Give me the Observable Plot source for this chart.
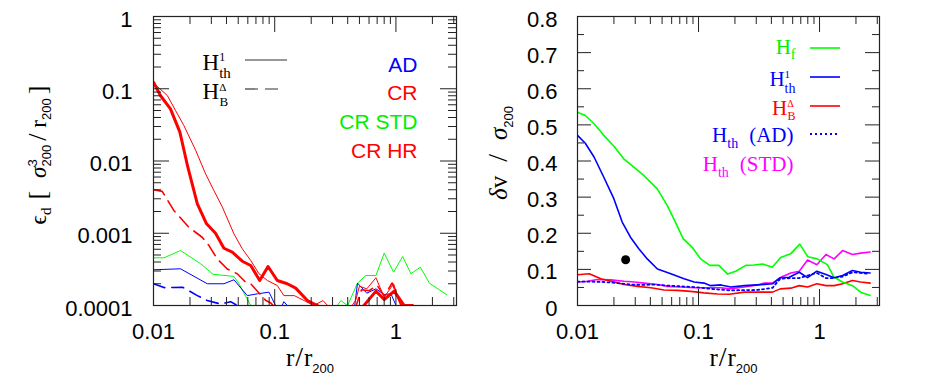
<!DOCTYPE html>
<html><head><meta charset="utf-8">
<script src="https://cdn.jsdelivr.net/npm/d3@7"></script>
<script src="https://cdn.jsdelivr.net/npm/@observablehq/plot@0.6"></script>
<style>
html,body{margin:0;padding:0;background:#fff;}
#wrap{position:relative;width:937px;height:392px;overflow:hidden;background:#fff;}
#left,#right{position:absolute;top:0;}
#left{left:0;} #right{left:469px;}
</style></head><body>
<div id="wrap"><div id="left"></div><div id="right"></div></div>
<script>
// ---------------- LEFT PANEL DATA: energy dissipation eps_d vs r/r200 ----------------
// CR HR, H_th^1 (thick red)
const crhrThR = [0.01, 0.0114, 0.0138, 0.0165, 0.0192, 0.0230, 0.0274, 0.0325, 0.0381, 0.0447, 0.054, 0.0634, 0.0752, 0.0881, 0.105, 0.127, 0.149, 0.186, 0.225, 0.27, 0.45, 0.547, 0.684, 0.80, 0.968, 1.17, 1.37];
const crhrThE = [0.123, 0.0807, 0.0527, 0.0251, 0.0082, 0.00255, 0.00135, 0.001, 0.00062, 0.000547, 0.00041, 0.000358, 0.000222, 0.000347, 0.000222, 0.0002, 0.000174, 0.000117, 0.0001, 0.00008, 0.00007, 0.000101, 0.000158, 0.000121, 0.000158, 0.0001, 0.0001];
// CR, H_th^1 (thin red)
const crThR = [0.01, 0.013, 0.0152, 0.0178, 0.0223, 0.0269, 0.0315, 0.037, 0.0461, 0.054, 0.0634, 0.0742, 0.087, 0.105, 0.119, 0.145, 0.175, 0.21, 0.25, 0.29, 0.40, 0.467, 0.50, 0.575, 0.684, 0.80, 0.957, 1.05, 1.13];
const crThE = [0.12, 0.0807, 0.05, 0.031, 0.014, 0.00664, 0.0039, 0.0023, 0.00098, 0.00061, 0.00042, 0.000275, 0.000222, 0.000189, 0.000137, 0.000137, 0.000117, 0.0001, 0.000117, 0.00009, 0.00008, 0.00012, 0.000185, 0.00017, 0.000242, 0.00013, 0.0002, 0.00012, 0.0001];
// CR, H_B^Delta (dashed red)
const crBR = [0.01, 0.0118, 0.0147, 0.0196, 0.0252, 0.0286, 0.0336, 0.0406, 0.049, 0.0576, 0.0634, 0.0845, 0.093, 0.11, 0.3, 0.45, 0.52, 0.6, 0.70, 0.80, 0.93, 1.1];
const crBE = [0.004, 0.0038, 0.00207, 0.00121, 0.00088, 0.00068, 0.00044, 0.00032, 0.000275, 0.00021, 0.0002, 0.000117, 0.000108, 0.00008, 0.00006, 0.00008, 0.000165, 0.00016, 0.00019, 0.000135, 0.000205, 0.0001];
// CR STD, H_th^1 (green)
const stdThR = [0.01, 0.0122, 0.0167, 0.0245, 0.031, 0.0461, 0.0507, 0.0634, 0.08, 0.3, 0.351, 0.399, 0.482, 0.565, 0.684, 0.80, 0.957, 1.136, 1.33, 1.59, 1.89, 2.62];
const stdThE = [0.000457, 0.000457, 0.000577, 0.000378, 0.00027, 0.000253, 0.0002, 0.0001, 0.00007, 0.00008, 0.000117, 0.0001, 0.000204, 0.00026, 0.00026, 0.00053, 0.000289, 0.000477, 0.000275, 0.000339, 0.000204, 0.000141];
// AD, H_th^1 (blue)
const adThR = [0.01, 0.0167, 0.0278, 0.0381, 0.0461, 0.0594, 0.072, 0.0898, 0.1015, 0.112, 0.119, 0.127, 0.2, 0.45, 0.482, 0.575, 0.684, 0.80, 0.91, 1.0, 1.1];
const adThE = [0.000312, 0.000322, 0.0002, 0.0002, 0.000227, 0.000137, 0.000145, 0.000153, 0.0001, 0.00009, 0.000113, 0.0001, 0.00007, 0.00008, 0.000204, 0.000148, 0.00017, 0.000142, 0.000145, 0.000101, 0.00008];
// AD, H_B^Delta (dashed blue)
const adBR = [0.01, 0.0122, 0.0175, 0.023, 0.0278, 0.0357, 0.0433, 0.049, 0.055];
const adBE = [0.0002, 0.000177, 0.000178, 0.000137, 0.000117, 0.000105, 0.000113, 0.0001, 0.00009];

// ---------------- RIGHT PANEL DATA: velocity dispersion dv/sigma200 vs r/r200 ----------------
const hfR = [0.01, 0.0116, 0.0137, 0.0165, 0.0200, 0.0241, 0.0292, 0.0353, 0.0456, 0.0551, 0.0625, 0.0747, 0.0887, 0.104, 0.124, 0.147, 0.174, 0.203, 0.246, 0.286, 0.339, 0.407, 0.477, 0.576, 0.687, 0.80, 0.957, 1.16, 1.32, 1.55, 1.87, 2.19, 2.62];
const hfV = [0.535, 0.526, 0.503, 0.471, 0.441, 0.406, 0.383, 0.360, 0.323, 0.277, 0.240, 0.185, 0.161, 0.129, 0.111, 0.111, 0.087, 0.095, 0.111, 0.112, 0.115, 0.106, 0.133, 0.143, 0.170, 0.135, 0.129, 0.113, 0.078, 0.065, 0.055, 0.037, 0.028];
const thR = [0.01, 0.0116, 0.0137, 0.0165, 0.0200, 0.0234, 0.0274, 0.0321, 0.0377, 0.0458, 0.059, 0.076, 0.092, 0.111, 0.126, 0.153, 0.185, 0.239, 0.308, 0.409, 0.473, 0.562, 0.68, 0.796, 0.95, 1.13, 1.32, 1.55, 1.87, 2.19, 2.62];
const thV = [0.471, 0.449, 0.411, 0.355, 0.295, 0.231, 0.189, 0.157, 0.129, 0.101, 0.088, 0.074, 0.065, 0.062, 0.055, 0.057, 0.051, 0.055, 0.057, 0.060, 0.077, 0.078, 0.092, 0.077, 0.095, 0.086, 0.077, 0.083, 0.097, 0.092, 0.090];
const bR = [0.01, 0.0125, 0.0156, 0.0201, 0.0243, 0.0313, 0.0404, 0.052, 0.067, 0.0863, 0.111, 0.1436, 0.18, 0.239, 0.308, 0.409, 0.473, 0.579, 0.68, 0.796, 0.95, 1.13, 1.32, 1.55, 1.87, 2.19, 2.62];
const bV = [0.085, 0.088, 0.074, 0.065, 0.058, 0.053, 0.049, 0.043, 0.042, 0.039, 0.035, 0.032, 0.031, 0.037, 0.037, 0.037, 0.046, 0.048, 0.055, 0.051, 0.060, 0.055, 0.055, 0.060, 0.069, 0.065, 0.062];
const stdR = [0.01, 0.0121, 0.0146, 0.0189, 0.0243, 0.0294, 0.0356, 0.0458, 0.0554, 0.0714, 0.092, 0.1186, 0.153, 0.18, 0.239, 0.308, 0.349, 0.409, 0.479, 0.579, 0.68, 0.796, 0.95, 1.13, 1.32, 1.55, 1.87, 2.19, 2.62];
const stdV = [0.065, 0.067, 0.072, 0.071, 0.067, 0.065, 0.062, 0.058, 0.053, 0.051, 0.049, 0.049, 0.049, 0.046, 0.051, 0.057, 0.062, 0.062, 0.078, 0.090, 0.095, 0.126, 0.113, 0.141, 0.129, 0.152, 0.141, 0.145, 0.148];
const adR = [0.01, 0.0129, 0.0166, 0.0214, 0.0275, 0.0356, 0.043, 0.0554, 0.0714, 0.092, 0.126, 0.18, 0.308, 0.409, 0.473, 0.579, 0.68, 0.796, 0.95, 1.13, 1.32, 1.55, 1.87, 2.5];
const adV = [0.066, 0.066, 0.065, 0.062, 0.058, 0.057, 0.058, 0.055, 0.053, 0.051, 0.046, 0.042, 0.043, 0.049, 0.074, 0.076, 0.076, 0.083, 0.090, 0.076, 0.076, 0.080, 0.092, 0.088];
const dotR = [0.025];
const dotV = [0.1265];

// ---------------- TICKS ----------------
const xMajor = [0.01, 0.1, 1];
const xTickLabels = ["0.01", "0.1", "1"];
const xMinor = [0.02,0.03,0.04,0.05,0.06,0.07,0.08,0.09,0.2,0.3,0.4,0.5,0.6,0.7,0.8,0.9,2,3];
const yLogMajor = [0.0001, 0.001, 0.01, 0.1, 1];
const yLogLabels = ["0.0001", "0.001", "0.01", "0.1", "1"];
const yLogMinor = [0.0002,0.0003,0.0004,0.0005,0.0006,0.0007,0.0008,0.0009,0.002,0.003,0.004,0.005,0.006,0.007,0.008,0.009,0.02,0.03,0.04,0.05,0.06,0.07,0.08,0.09,0.2,0.3,0.4,0.5,0.6,0.7,0.8,0.9];
const yLinMajor = [0, 0.1, 0.2, 0.3, 0.4, 0.5, 0.6, 0.7, 0.8];
const yLinLabels = ["0", "0.1", "0.2", "0.3", "0.4", "0.5", "0.6", "0.7", "0.8"];
const yLinMinor = [0.05, 0.15, 0.25, 0.35, 0.45, 0.55, 0.65, 0.75];

const leftLegendLabels = ["AD", "CR", "CR STD", "CR HR"];
const leftLegendColors = ["#0000ff", "#ff0000", "#00ee00", "#ff0000"];

const rows = (rs, vs) => rs.map((r, i) => ({r, v: vs[i]}));

const sans = "Liberation Sans, Arial, Helvetica, sans-serif";
const serif = "Liberation Serif, Times New Roman, serif";
const BLUE = "#0000ff", RED = "#ff0000", GREEN = "#00ff00", MAG = "#ff00ff";

const W = 468, H = 392, mT = 16, mB = 87;

function tickMarks(fw, fh, xMaj, xMin, yMaj, yMin, xl, xs, yl, ys) {
  const st = {stroke: "#222", strokeWidth: 1};
  return [
    Plot.ruleX(xMaj, {...st, insetTop: fh - xl}),
    Plot.ruleX(xMaj, {...st, insetBottom: fh - xl}),
    Plot.ruleX(xMin, {...st, insetTop: fh - xs}),
    Plot.ruleX(xMin, {...st, insetBottom: fh - xs}),
    Plot.ruleY(yMaj, {...st, insetRight: fw - yl}),
    Plot.ruleY(yMaj, {...st, insetLeft: fw - yl}),
    Plot.ruleY(yMin, {...st, insetRight: fw - ys}),
    Plot.ruleY(yMin, {...st, insetLeft: fw - ys})
  ];
}

const svgNS = "http://www.w3.org/2000/svg";
function setMath(svg, key, parts) {
  d3.select(svg).selectAll("text").filter(function () { return this.textContent === key; }).each(function () {
    const el = this;
    el.textContent = "";
    let cur = 0;
    for (const p of parts) {
      const t = document.createElementNS(svgNS, "tspan");
      t.textContent = p.t;
      const sh = p.sh || 0;
      if (sh !== cur) t.setAttribute("dy", sh - cur);
      cur = sh;
      if (p.dx) t.setAttribute("dx", p.dx);
      if (p.s) t.setAttribute("font-size", p.s);
      if (p.f) t.setAttribute("font-family", p.f);
      if (p.it) t.setAttribute("font-style", "italic");
      el.appendChild(t);
    }
  });
}
function swatch(svg, x1, x2, y, color, width, dash) {
  const l = d3.select(svg).append("line")
    .attr("x1", x1).attr("x2", x2).attr("y1", y).attr("y2", y)
    .attr("stroke", color).attr("stroke-width", width);
  if (dash) l.attr("stroke-dasharray", dash);
}

// ---------------- LEFT PLOT ----------------
{
  const mL = 153, mR = 12;
  const fw = W - mL - mR, fh = H - mT - mB;
  const svg = Plot.plot({
    width: W, height: H, marginLeft: mL, marginRight: mR, marginTop: mT, marginBottom: mB,
    x: {type: "log", domain: [0.01, 3.16], axis: null},
    y: {type: "log", domain: [0.0001, 1], axis: null},
    style: {background: "white", color: "black", fontFamily: sans, fontSize: "22px", overflow: "visible"},
    marks: [
      Plot.line(rows(stdThR, stdThE), {x: "r", y: "v", stroke: GREEN, strokeWidth: 1, clip: true}),
      Plot.line(rows(adThR, adThE), {x: "r", y: "v", stroke: BLUE, strokeWidth: 1, clip: true}),
      Plot.line(rows(adBR, adBE), {x: "r", y: "v", stroke: BLUE, strokeWidth: 1.6, strokeDasharray: "12,7", clip: true}),
      Plot.line(rows(crBR, crBE), {x: "r", y: "v", stroke: RED, strokeWidth: 1.6, strokeDasharray: "13,7", clip: true}),
      Plot.line(rows(crThR, crThE), {x: "r", y: "v", stroke: RED, strokeWidth: 1, clip: true}),
      Plot.line(rows(crhrThR, crhrThE), {x: "r", y: "v", stroke: RED, strokeWidth: 3, clip: true}),
      Plot.frame({stroke: "#222", strokeWidth: 1.2}),
      ...tickMarks(fw, fh, xMajor, xMinor, yLogMajor, yLogMinor, 16, 8, 16, 8),
      Plot.text(xMajor, {x: d => d, text: (d, i) => xTickLabels[i], frameAnchor: "bottom", lineAnchor: "top", dy: 18, fontSize: 22, fontFamily: sans}),
      Plot.text(yLogMajor, {y: d => d, text: (d, i) => yLogLabels[i], frameAnchor: "left", textAnchor: "end", dx: -21, dy: 3, fontSize: 22, fontFamily: sans}),
      ...leftLegendLabels.map((lab, i) => Plot.text([lab], {text: d => d, frameAnchor: "top-right", textAnchor: "end", lineAnchor: "bottom", dx: -39, dy: 55 + 28.7 * i, fill: leftLegendColors[i], fontSize: 21, fontFamily: sans})),
      Plot.text(["H_th^1"], {text: d => d, frameAnchor: "top-left", textAnchor: "start", lineAnchor: "bottom", dx: 49, dy: 53, fontSize: 23, fontFamily: serif}),
      Plot.text(["H_B^Δ"], {text: d => d, frameAnchor: "top-left", textAnchor: "start", lineAnchor: "bottom", dx: 49, dy: 82, fontSize: 23, fontFamily: serif}),
      Plot.text(["r/r_200 L"], {text: d => d, frameAnchor: "bottom", textAnchor: "middle", lineAnchor: "bottom", dx: 5, dy: 60, fontSize: 25, fontFamily: serif}),
      Plot.text(["eps_d"], {text: d => d, frameAnchor: "left", textAnchor: "middle", lineAnchor: "bottom", rotate: -90, dx: -108, dy: -6, fontSize: 23, fontFamily: serif})
    ]
  });
  setMath(svg, "H_th^1", [{t: "H"}, {t: "1", s: 12, sh: -9}, {t: "th", s: 15, sh: 8, dx: -6}]);
  setMath(svg, "H_B^Δ", [{t: "H"}, {t: "Δ", s: 11, sh: -8}, {t: "B", s: 13, sh: 7, dx: -6.7}]);
  setMath(svg, "r/r_200 L", [{t: "r"}, {t: "/", s: 28, dx: 1}, {t: "r", dx: 1}, {t: "200", s: 13, f: sans, sh: 7}]);
  setMath(svg, "eps_d", [
    {t: "ϵ"}, {t: "d", s: 15, sh: 5},
    {t: "[", s: 26, dx: 8},
    {t: "σ", dx: 13, it: true}, {t: "3", s: 13, f: sans, sh: -9}, {t: "200", s: 13, f: sans, sh: 5, dx: -7.2},
    {t: "/", s: 26, dx: 4},
    {t: "r", dx: 6}, {t: "200", s: 13, f: sans, sh: 5},
    {t: "]", s: 26, dx: 4}
  ]);
  swatch(svg, 245, 287, 60, "#333", 1.2);
  swatch(svg, 245, 282, 89, "#333", 1.2, "13,7");
  document.getElementById("left").appendChild(svg);
}

// ---------------- RIGHT PLOT ----------------
{
  const mL = 108, mR = 58;
  const fw = W - mL - mR, fh = H - mT - mB;
  const svg = Plot.plot({
    width: W, height: H, marginLeft: mL, marginRight: mR, marginTop: mT, marginBottom: mB,
    x: {type: "log", domain: [0.01, 3.13], axis: null},
    y: {type: "linear", domain: [0, 0.8], axis: null},
    style: {background: "white", color: "black", fontFamily: sans, fontSize: "22px", overflow: "visible"},
    marks: [
      Plot.line(rows(stdR, stdV), {x: "r", y: "v", stroke: MAG, strokeWidth: 1.6, clip: true}),
      Plot.line(rows(bR, bV), {x: "r", y: "v", stroke: RED, strokeWidth: 1.6, clip: true}),
      Plot.line(rows(adR, adV), {x: "r", y: "v", stroke: BLUE, strokeWidth: 1.8, strokeDasharray: "2,3", clip: true}),
      Plot.line(rows(hfR, hfV), {x: "r", y: "v", stroke: GREEN, strokeWidth: 1.6, clip: true}),
      Plot.line(rows(thR, thV), {x: "r", y: "v", stroke: BLUE, strokeWidth: 1.6, clip: true}),
      Plot.dot(rows(dotR, dotV), {x: "r", y: "v", r: 4.5, fill: "black", stroke: "none"}),
      Plot.frame({stroke: "#222", strokeWidth: 1.2}),
      ...tickMarks(fw, fh, xMajor, xMinor, yLinMajor, yLinMinor, 16, 8, 14, 7),
      Plot.text(xMajor, {x: d => d, text: (d, i) => xTickLabels[i], frameAnchor: "bottom", lineAnchor: "top", dy: 18, fontSize: 22, fontFamily: sans}),
      Plot.text(yLinMajor, {y: d => d, text: (d, i) => yLinLabels[i], frameAnchor: "left", textAnchor: "end", dx: -20, dy: 3, fontSize: 22, fontFamily: sans}),
      Plot.text(["H_f"], {text: d => d, frameAnchor: "top-left", textAnchor: "end", lineAnchor: "bottom", dx: 218, dy: 37, fill: "#00ee00", fontSize: 21, fontFamily: serif}),
      Plot.text(["H_th^1 R"], {text: d => d, frameAnchor: "top-left", textAnchor: "end", lineAnchor: "bottom", dx: 218, dy: 69, fill: BLUE, fontSize: 21, fontFamily: serif}),
      Plot.text(["H_B^Δ R"], {text: d => d, frameAnchor: "top-left", textAnchor: "end", lineAnchor: "bottom", dx: 218, dy: 98, fill: RED, fontSize: 21, fontFamily: serif}),
      Plot.text(["H_th (AD)"], {text: d => d, frameAnchor: "top-left", textAnchor: "end", lineAnchor: "bottom", dx: 216, dy: 125, fill: BLUE, fontSize: 21, fontFamily: serif}),
      Plot.text(["H_th (STD)"], {text: d => d, frameAnchor: "top-left", textAnchor: "end", lineAnchor: "bottom", dx: 216, dy: 154, fill: MAG, fontSize: 21, fontFamily: serif}),
      Plot.text(["r/r_200 R"], {text: d => d, frameAnchor: "bottom", textAnchor: "middle", lineAnchor: "bottom", dx: 5, dy: 60, fontSize: 25, fontFamily: serif}),
      Plot.text(["dv/sigma"], {text: d => d, frameAnchor: "left", textAnchor: "middle", lineAnchor: "bottom", rotate: -90, dx: -71, dy: -8, fontSize: 25, fontFamily: serif})
    ]
  });
  setMath(svg, "H_f", [{t: "H"}, {t: "f", s: 14, sh: 5}]);
  setMath(svg, "H_th^1 R", [{t: "H"}, {t: "1", s: 11, sh: -8}, {t: "th", s: 14, sh: 7, dx: -5.5}]);
  setMath(svg, "H_B^Δ R", [{t: "H"}, {t: "Δ", s: 10, sh: -8}, {t: "B", s: 12, sh: 5.5, dx: -6.1}]);
  setMath(svg, "H_th (AD)", [{t: "H"}, {t: "th", s: 14, sh: 6}, {t: "(AD)", dx: 11}]);
  setMath(svg, "H_th (STD)", [{t: "H"}, {t: "th", s: 14, sh: 6}, {t: "(STD)", dx: 11}]);
  setMath(svg, "r/r_200 R", [{t: "r"}, {t: "/", s: 28, dx: 1}, {t: "r", dx: 1}, {t: "200", s: 13, f: sans, sh: 7}]);
  setMath(svg, "dv/sigma", [{t: "δ", it: true}, {t: "v"}, {t: "/", s: 28, dx: 14}, {t: "σ", dx: 14, it: true}, {t: "200", s: 13, f: sans, sh: 6}]);
  swatch(svg, 341, 371, 48, GREEN, 1.6);
  swatch(svg, 341, 371, 77, BLUE, 1.6);
  swatch(svg, 341, 371, 106, RED, 1.6);
  swatch(svg, 341, 371, 134, BLUE, 1.8, "2,3");
  document.getElementById("right").appendChild(svg);
}
</script>
</body></html>
